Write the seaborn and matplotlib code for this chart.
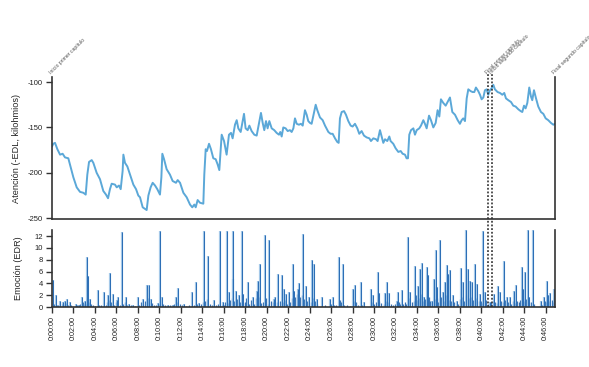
import matplotlib
matplotlib.use("Agg")
import matplotlib.pyplot as plt
import seaborn as sns
import pandas as pd

# attention curve (-EDL, kilohms), time in minutes
att_min = [0.00, 0.12, 0.28, 0.50, 0.75, 0.99, 1.21, 1.52, 1.74, 1.99, 2.30, 2.61, 2.92, 3.14, 3.29,
           3.45, 3.70, 3.85, 4.16, 4.47, 4.78, 5.03, 5.22, 5.40, 5.56, 5.87, 6.03, 6.24, 6.40, 6.58,
           6.65, 6.80, 7.02, 7.27, 7.58, 7.83, 8.04, 8.20, 8.45, 8.82, 8.98, 9.19, 9.38, 9.60, 9.81,
           10.06, 10.19, 10.28, 10.44, 10.68, 10.99, 11.24, 11.55, 11.71, 11.93, 12.24, 12.55, 12.86,
           13.07, 13.26, 13.39, 13.57, 13.79, 14.10, 14.19, 14.32, 14.44, 14.63, 14.81, 15.03, 15.25,
           15.44, 15.59, 15.81, 16.03, 16.27, 16.49, 16.68, 16.83, 17.05, 17.21, 17.36, 17.58, 17.77,
           17.89, 18.04, 18.23, 18.39, 18.60, 18.85, 19.07, 19.29, 19.47, 19.63, 19.78, 19.94, 20.09,
           20.25, 20.47, 20.71, 20.93, 21.15, 21.27, 21.40, 21.55, 21.77, 21.96, 22.17, 22.33, 22.49,
           22.64, 22.80, 23.01, 23.20, 23.36, 23.57, 23.73, 23.88, 24.04, 24.19, 24.35, 24.57, 24.72,
           24.97, 25.22, 25.44, 25.75, 25.96, 26.15, 26.37, 26.58, 26.71, 26.83, 26.99, 27.21, 27.39,
           27.61, 27.83, 28.01, 28.23, 28.45, 28.63, 28.85, 29.07, 29.32, 29.57, 29.72, 29.94, 30.19,
           30.34, 30.56, 30.72, 30.87, 31.03, 31.24, 31.43, 31.55, 31.80, 32.02, 32.27, 32.49, 32.67,
           32.89, 33.04, 33.17, 33.29, 33.45, 33.67, 33.82, 33.98, 34.22, 34.38, 34.60, 34.75, 34.91,
           35.13, 35.31, 35.53, 35.75, 35.93, 36.09, 36.24, 36.46, 36.68, 36.86, 37.08, 37.30, 37.55,
           37.80, 38.01, 38.17, 38.32, 38.48, 38.64, 38.79, 39.01, 39.19, 39.35, 39.50, 39.72, 39.88,
           40.03, 40.19, 40.34, 40.50, 40.65, 40.81, 40.96, 41.12, 41.27, 41.52, 41.74, 41.96, 42.14,
           42.30, 42.52, 42.77, 42.98, 43.20, 43.45, 43.67, 43.82, 43.98, 44.13, 44.29, 44.47, 44.63,
           44.75, 44.91, 45.10, 45.31, 45.56, 45.78, 46.00, 46.24, 46.49, 46.71, 46.87]
att_val = [-171, -168, -167, -174, -180, -179, -183, -184, -194, -205, -216, -221, -222, -224, -202,
           -188, -186, -189, -200, -207, -220, -224, -228, -218, -212, -213, -216, -214, -218, -198,
           -180, -189, -193, -202, -213, -218, -225, -227, -238, -241, -225, -216, -211, -214, -218,
           -224, -205, -179, -185, -196, -202, -209, -211, -208, -211, -222, -227, -235,
           -238, -235, -238, -230, -233, -234, -202, -174, -176, -168, -174, -184, -185,
           -191, -197, -158, -165, -180, -158, -156, -162, -147, -142, -151, -155, -143,
           -135, -151, -153, -148, -154, -158, -159, -145, -134, -145, -153, -143, -151,
           -143, -151, -153, -156, -158, -155, -160, -150, -151, -154, -153, -155, -151,
           -140, -146, -147, -146, -148, -131, -136, -143, -145, -146, -137, -125, -131,
           -139, -142, -148, -155, -157, -157, -162, -166, -167, -140, -133, -132, -136,
           -143, -148, -149, -146, -151, -157, -154, -159, -161, -162, -165, -162, -163,
           -165, -153, -160, -167, -163, -165, -160, -165, -168, -173, -177, -176, -179,
           -180, -184, -184, -158, -153, -151, -158, -153, -151, -148, -142, -146, -151,
           -137, -142, -150, -145, -131, -138, -119, -123, -126, -122, -117, -133, -136,
           -142, -146, -142, -140, -143, -118, -108, -110, -111, -111, -106, -110, -114,
           -119, -117, -109, -108, -114, -109, -107, -103, -108, -111, -112, -114, -112,
           -118, -120, -122, -126, -127, -130, -132, -133, -126, -129, -123, -106, -116,
           -120, -109, -118, -127, -133, -135, -140, -142, -145, -147, -146]

# emotion peaks (EDR)
peak_min = [0.12, 0.37, 0.75, 1.0, 1.2, 1.37, 1.68, 2.24, 2.55, 2.76, 3.07, 3.23, 3.39, 3.54, 4.25,
            4.85, 5.25, 5.4, 5.65, 6.03, 6.18, 6.52, 6.9, 7.2, 7.58, 7.98, 8.51, 8.82, 9.0, 9.2,
            9.9, 10.06, 10.21, 10.84, 11.3, 11.55, 11.77, 12.33, 13.04, 13.42, 13.73, 14.17, 14.53,
            15.1, 15.65, 15.9, 16.28, 16.52, 16.84, 16.9, 17.15, 17.4, 17.67, 17.83, 18.26, 18.7,
            19.07, 19.23, 19.38, 19.85, 20.25, 20.69, 20.8, 21.08, 21.4, 21.65, 21.8, 22.05, 22.42,
            22.55, 22.95, 23.0, 23.36, 23.67, 23.98, 24.22, 24.41, 24.66, 25.19, 25.9, 26.15, 26.74,
            27.08, 28.01, 28.23, 28.76, 29.07, 29.72, 29.88, 30.34, 30.5, 31.03, 31.24, 31.4, 32.11,
            32.21, 32.58, 33.14, 33.36, 33.85, 34.13, 34.29, 34.47, 34.66, 34.91, 35.0, 35.37, 35.59,
            35.75, 35.9, 36.15, 36.4, 36.59, 36.77, 36.93, 37.08, 37.39, 37.7, 38.08, 38.32, 38.54,
            38.73, 38.95, 39.16, 39.41, 39.63, 39.88, 40.19, 40.34, 40.81, 41.18, 41.59, 41.74, 42.11,
            42.36, 42.67, 43.04, 43.23, 43.76, 43.91, 44.1, 44.32, 44.47, 44.78, 45.53, 45.84, 46.12,
            46.24, 46.43, 46.77]
peak_val = [4.6, 2.0, 1.0, 0.8, 1.1, 1.4, 0.8, 0.6, 0.45, 1.8, 1.1, 8.45, 5.2, 1.4, 2.9,
            2.5, 2.0, 5.75, 2.25, 1.2, 1.8, 12.6, 1.8, 0.6, 0.45, 1.8, 1.4, 3.8, 3.8, 1.4,
            0.7, 12.85, 1.8, 0.3, 0.45, 1.7, 3.3, 0.6, 2.5, 4.3, 0.7, 12.85, 8.7,
            1.2, 12.85, 0.85, 12.85, 2.5, 12.8, 4.8, 2.8, 2.0, 12.85, 2.25, 4.3, 1.8,
            2.8, 4.5, 7.3, 12.1, 11.4, 1.4, 1.7, 5.6, 5.35, 3.1, 2.25, 2.5, 7.3,
            2.7, 3.1, 4.05, 12.4, 3.65, 1.7, 7.9, 7.3, 1.4, 1.7, 1.4, 1.7, 8.45,
            7.2, 3.1, 3.8, 4.2, 0.95, 3.0, 2.0, 5.9, 2.35, 2.35, 4.2, 2.35, 1.1,
            2.5, 2.9, 11.8, 2.5, 6.9, 3.65, 6.5, 7.45, 1.8, 6.75, 5.35, 1.1, 4.8,
            9.7, 3.4, 11.4, 2.5, 4.2, 7.05, 5.6, 6.2, 2.0, 1.1, 6.65, 4.2, 12.95,
            6.5, 4.5, 4.2, 7.3, 3.95, 2.25, 12.85, 2.5, 0.85, 2.15, 3.65, 2.5, 7.8,
            1.8, 1.7, 2.8, 3.8, 6.75, 3.1, 6.0, 12.95, 1.7, 12.95, 1.0, 1.7, 4.4,
            2.0, 2.35, 3.1]

# low-level EDR activity
base_min = [0.2, 0.45, 0.6, 0.9, 1.1, 1.3, 1.5, 1.8, 2.35, 2.45, 2.65, 2.9, 3.0, 3.15, 3.3, 3.45,
            3.65, 3.8, 4.0, 4.4, 4.6, 5.0, 5.1, 5.3, 5.5, 5.8, 5.95, 6.1, 6.3, 6.65, 6.8, 7.0, 7.35,
            7.7, 8.1, 8.3, 8.45, 8.7, 8.9, 9.05, 9.3, 9.5, 9.7, 10.0, 10.3, 10.5, 10.7, 11.0, 11.15,
            11.4, 11.65, 11.9, 12.1, 12.5, 12.8, 13.2, 13.55, 13.9, 14.05, 14.3, 14.45, 14.7, 14.9,
            15.3, 15.5, 15.8, 16.0, 16.15, 16.4, 16.6, 16.75, 17.0, 17.25, 17.5, 17.75, 18.0, 18.1,
            18.4, 18.55, 18.85, 19.0, 19.15, 19.3, 19.5, 19.7, 19.95, 20.1, 20.4, 20.55, 20.95, 21.2,
            21.5, 21.7, 21.9, 22.2, 22.35, 22.65, 22.8, 23.1, 23.25, 23.5, 23.8, 24.1, 24.3, 24.5,
            24.7, 25.4, 25.95, 26.3, 26.5, 26.85, 26.95, 27.2, 27.5, 27.8, 28.1, 28.35, 28.5, 28.9,
            29.8, 30.0, 30.2, 30.45, 30.7, 30.9, 31.1, 31.3, 31.6, 31.8, 32.0, 32.3, 32.45, 32.7,
            32.9, 33.0, 33.25, 33.5, 33.7, 33.95, 34.05, 34.2, 34.4, 34.55, 34.8, 35.1, 35.25, 35.45,
            35.65, 35.85, 36.0, 36.25, 36.5, 36.7, 36.85, 37.0, 37.2, 37.5, 37.85, 38.0, 38.2, 38.4,
            38.6, 38.85, 39.05, 39.25, 39.5, 39.75, 40.0, 40.1, 40.45, 40.6, 40.9, 41.05, 41.3,
            41.45, 41.85, 42.0, 42.2, 42.45, 42.8, 42.95, 43.1, 43.35, 43.5, 43.65, 43.85, 44.0,
            44.2, 44.4, 44.6, 44.9, 45.6, 45.7, 45.95, 46.05, 46.3, 46.55, 46.65, 46.8]
base_val = [0.5, 0.3, 0.4, 0.6, 0.3, 0.7, 0.4, 0.3, 0.3, 0.4, 0.5, 0.8, 0.5, 0.6, 1.5, 0.8,
            0.5, 0.3, 0.2, 0.4, 0.3, 0.4, 0.8, 1.2, 0.9, 0.4, 0.9, 0.6, 0.3, 0.5, 0.9, 0.4, 0.3,
            0.2, 0.3, 0.8, 0.5, 1.0, 1.6, 0.9, 0.7, 0.4, 0.3, 0.6, 0.5, 0.3, 0.2, 0.3, 0.4,
            0.6, 0.8, 0.5, 0.3, 0.2, 0.3, 0.4, 0.5, 0.6, 0.9, 1.0, 1.4, 0.5, 0.3,
            0.3, 0.5, 0.4, 0.3, 0.8, 0.7, 1.2, 1.6, 1.0, 1.4, 0.9, 0.7, 0.8, 1.5,
            0.6, 1.2, 0.5, 1.5, 2.2, 1.8, 0.7, 0.9, 1.5, 0.6, 1.0, 0.8, 0.9, 1.1,
            0.8, 1.2, 0.6, 0.8, 1.5, 1.8, 2.2, 1.8, 2.0, 1.4, 1.0, 0.8, 1.5, 1.0,
            0.5, 0.3, 0.5, 0.4, 0.3, 1.2, 0.8, 0.4, 0.3, 0.2, 1.0, 0.8, 0.3, 0.4,
            0.8, 0.5, 0.8, 1.0, 0.7, 0.5, 1.0, 0.9, 0.5, 0.4, 0.6, 0.9, 0.6, 0.5,
            0.9, 0.6, 1.5, 0.8, 1.0, 2.0, 1.2, 1.6, 2.3, 1.1, 1.4, 1.8, 1.0, 0.8,
            1.3, 1.6, 0.9, 1.8, 1.1, 2.0, 1.6, 1.2, 1.0, 0.8, 0.6, 1.4, 1.7, 1.1,
            2.0, 1.5, 1.8, 1.2, 1.6, 1.0, 1.1, 0.7, 1.2, 0.5, 0.8, 1.0, 0.9,
            0.7, 1.0, 0.8, 1.2, 0.9, 0.6, 1.1, 0.7, 1.0, 0.8, 1.2, 1.5, 1.1,
            1.4, 0.9, 0.8, 0.5, 0.6, 0.4, 1.0, 0.8, 1.0, 1.2, 0.9, 1.5]

# chapter markers
event_min = [0.0, 40.6, 41.03, 46.87]
event_lbl = ["Inicio primer capítulo", "Final primer capítulo",
             "Inicio segundo capítulo", "Final segundo capítulo"]
event_ls = ["-", ":", ":", "-"]

tick_min = list(range(0, 47, 2))
tick_lbl = [f"0:{m:02d}:00" for m in tick_min]
x_end = 46.87

sns.set_style("ticks")
plt.rcParams['font.family'] = ['Liberation Sans', 'DejaVu Sans']
plt.rcParams['axes.unicode_minus'] = False

fig = plt.figure(figsize=(5.89, 3.67), dpi=100)
ax1 = fig.add_axes([0.0883, 0.403, 0.854, 0.387])
ax2 = fig.add_axes([0.0883, 0.163, 0.854, 0.210])

att = pd.DataFrame({"t": att_min, "v": att_val})
sns.lineplot(data=att, x="t", y="v", ax=ax1, color="#5ba8d8", linewidth=1.4)

ax2.vlines(base_min, 0, base_val, color="#1f5fa8", linewidth=0.9, alpha=0.9)
ax2.vlines(peak_min, 0, peak_val, color="#8dbbe3", linewidth=1.6, alpha=0.8)
ax2.vlines(peak_min, 0, peak_val, color="#2a6db5", linewidth=0.7)

for ax in (ax1, ax2):
    ax.set_xlim(0, x_end)
    ax.spines["top"].set_visible(False)
    for s in ("left", "bottom", "right"):
        ax.spines[s].set_color("#333333")
        ax.spines[s].set_linewidth(1.2)
    ax.tick_params(axis="both", length=4, width=1, color="#333333", labelsize=5.5,
                   labelcolor="#222222", pad=2.5)

# dotted chapter lines run through both panels
for x, ls in zip(event_min, event_ls):
    if ls == ":":
        ax1.axvline(x, ymin=-0.08, ymax=1.02, color="#222222", linestyle=(0, (1.2, 1.2)),
                    linewidth=1.1, clip_on=False)
        ax2.axvline(x, color="#222222", linestyle=(0, (1.2, 1.2)), linewidth=1.1)

ax1.set_ylim(-251, -94.5)
ax1.set_yticks([-100, -150, -200, -250])
ax1.set_xticks([])
ax1.set_xlabel("")
ax1.set_ylabel("Atención (-EDL, kilohmios)", fontsize=6.6, labelpad=5)

ax2.set_ylim(0, 13)
ax2.set_yticks(range(0, 13, 2))
ax2.set_xticks(tick_min)
ax2.set_xticklabels(tick_lbl, rotation=90, fontsize=5.2)
ax2.set_ylabel("Emoción (EDR)", fontsize=6.6, labelpad=8)

for x, lbl in zip(event_min, event_lbl):
    ax1.text(x, 1.015, lbl, transform=ax1.get_xaxis_transform(), rotation=45,
             fontsize=3.7, color="#555555", ha="left", va="bottom",
             rotation_mode="anchor", clip_on=False)

fig.savefig("out.png", dpi=100)
